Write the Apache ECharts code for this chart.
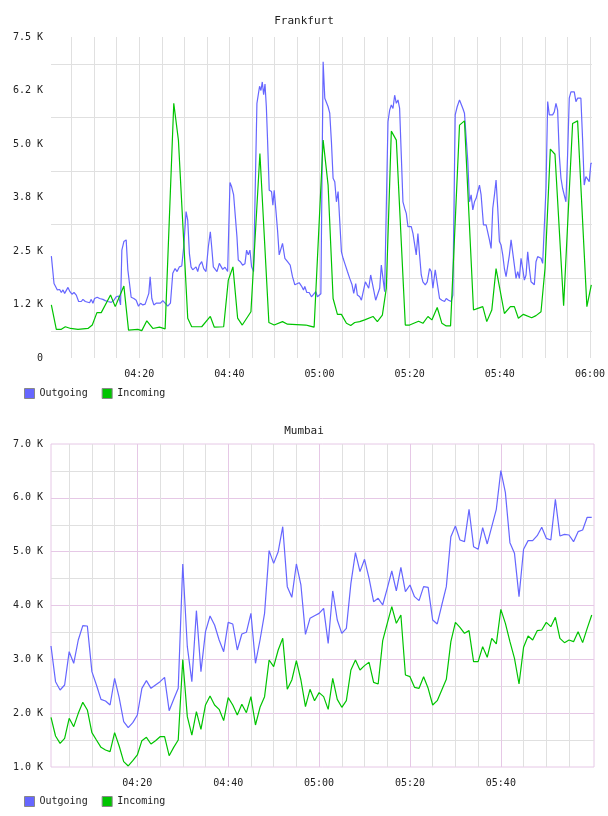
<!DOCTYPE html>
<html><head><meta charset="utf-8">
<script src="https://cdn.jsdelivr.net/npm/echarts@6/dist/echarts.min.js"></script>
<style>html,body{margin:0;padding:0;background:#fff}#c{width:608px;height:816px}</style>
</head><body><div id="c"></div>
<script>
// times are minutes after 04:00
var seriesNames = ['Outgoing', 'Incoming'];

var fraOutTimes = [0.5,1.09,1.38,1.83,2.34,2.71,3.08,3.45,3.82,4.19,4.63,5.07,5.52,6.03,6.55,7.14,7.51,8.03,8.47,8.98,9.35,9.72,10.09,10.68,11.2,11.57,11.94,12.45,13.04,13.78,14.37,14.89,15.41,15.85,16.14,16.59,17.1,17.47,17.84,18.21,18.8,19.32,19.83,20.28,20.79,21.31,21.75,22.12,22.42,22.79,23.23,23.75,24.11,24.7,25.22,25.74,26.33,26.92,27.44,27.95,28.4,28.91,29.43,29.87,30.39,30.76,31.13,31.49,31.86,32.23,32.6,32.97,33.34,33.86,34.3,34.81,35.33,35.77,36.07,36.44,36.88,37.25,37.77,38.14,38.51,39.02,39.61,40.13,40.5,40.94,41.24,41.68,41.97,42.42,42.93,43.45,43.82,44.19,44.56,44.93,45.37,46.11,46.4,46.7,47.0,47.3,47.6,47.9,48.2,48.47,48.84,49.35,49.65,49.94,50.31,50.68,51.05,51.42,51.79,52.31,52.9,53.49,54.0,54.52,54.96,55.48,56.0,56.44,56.73,57.18,57.69,58.21,58.65,59.17,59.54,59.91,60.3,60.8,61.17,61.54,61.9,62.27,62.64,63.01,63.38,63.75,64.12,64.49,64.86,65.23,65.6,66.19,66.7,67.22,67.59,68.03,68.4,68.92,69.29,69.66,70.17,70.54,70.91,71.35,71.72,72.09,72.46,72.83,73.35,73.71,74.08,74.45,74.75,75.19,75.56,75.93,76.3,76.67,77.04,77.41,77.77,78.14,78.51,78.88,79.25,79.62,79.99,80.36,80.73,81.1,81.46,81.83,82.2,82.57,82.94,83.46,83.9,84.41,84.79,85.15,85.67,86.11,86.63,87.15,87.74,88.11,88.62,89.21,89.58,90.1,90.54,91.06,91.43,91.8,92.16,92.53,92.9,93.27,93.64,94.01,94.38,94.75,95.12,95.49,95.85,96.37,96.96,97.33,97.7,98.07,98.44,98.81,99.17,99.54,99.91,100.28,100.65,101.02,101.39,101.76,102.13,102.5,102.87,103.23,103.6,103.97,104.34,104.71,105.08,105.45,105.82,106.19,106.56,106.93,107.3,107.66,108.03,108.4,108.77,109.14,109.51,109.88,110.25,110.62,110.98,111.35,111.72,112.09,112.46,112.83,113.2,113.57,113.94,114.31,114.67,115.04,115.41,115.78,116.15,116.52,116.89,117.26,117.63,117.99,118.36,118.73,119.1,119.47,119.84,120.21,120.44];
var fraOutValues = [2380,1740,1780,1590,1600,1530,1590,1510,1550,1650,1550,1490,1530,1470,1320,1320,1370,1320,1340,1290,1370,1280,1390,1420,1390,1430,1370,1340,1320,1300,1350,1430,1450,1240,2520,2720,2760,2060,1740,1420,1390,1350,1210,1280,1240,1260,1240,1510,1900,1390,1240,1280,1320,1280,1340,1280,1210,1280,1980,2090,2020,2130,2150,2600,3420,3220,2440,2130,2060,2020,2130,2020,2170,2250,2090,2020,2600,2950,2600,2130,2090,2020,2210,2200,2070,2120,2020,4100,4000,3810,3770,2830,2290,2250,2170,2200,2520,2410,2520,2130,2020,5950,5990,6350,6250,6450,6150,6400,5870,5090,3920,3890,3570,3920,3460,2990,2410,2440,2680,2330,2250,2170,1900,1710,1740,1760,1680,1590,1670,1530,1530,1430,1430,1550,1430,1430,1500,6920,6070,6070,5870,5720,5050,4200,4120,3650,3890,3190,2480,2330,2210,2020,1860,1710,1510,1740,1470,1430,1350,1390,1780,1820,1630,1940,1980,1550,1350,1330,1630,2170,1860,1550,1510,5520,5790,5910,5830,6140,5950,6030,5830,4740,3650,3500,3380,3070,3110,3070,2910,2870,2410,2910,2410,1940,1780,1710,1780,2090,2020,1630,2060,2090,1390,1350,1320,1390,1350,1320,1470,5680,5870,6030,5990,5830,5720,5680,4590,3650,3810,3460,3650,3730,3890,4040,3810,3110,3110,3070,2760,2560,3500,3810,4160,3500,2720,2640,2410,2090,1900,1940,2410,2760,2760,2170,1860,2020,1860,2330,2090,1820,1940,2480,2090,1780,1740,1710,2250,2370,2330,2330,2210,2210,3960,5990,5680,5720,5680,5750,5950,5790,4740,4200,3960,3960,3650,4740,6070,6220,6260,6220,5990,6070,6030,6070,5130,4040,4240,4280,4120,4550,4550];

var fraInTimes = [0.5,1.6,2.71,3.6,4.78,6.4,8.62,9.58,10.61,11.57,13.63,14.67,16.59,17.62,19.69,20.57,21.68,23.01,24.48,25.74,27.66,28.69,30.76,31.64,33.86,35.77,36.66,38.73,39.76,40.79,41.83,42.86,44.78,46.77,48.76,49.94,51.79,52.9,56.96,57.69,58.8,60.8,61.9,63.01,63.97,64.86,65.97,66.92,67.81,68.92,70.02,71.87,72.83,73.94,74.82,75.93,77.04,79.03,79.99,81.98,82.94,84.05,84.93,86.11,87.15,88.11,89.07,91.06,92.16,94.16,95.12,96.22,97.11,98.22,99.17,101.02,102.35,103.23,104.12,105.23,107.07,108.03,109.14,110.03,111.21,112.24,114.16,116.15,117.26,119.32,120.3];
var fraInValues = [1240,670,670,730,690,670,690,770,1060,1060,1470,1200,1680,650,670,640,870,690,720,680,5950,5090,930,730,730,970,720,730,1820,2130,930,770,1080,4780,830,770,850,790,770,750,720,5090,4040,1390,1020,1020,810,760,830,850,890,970,850,1000,1630,5300,5090,770,770,860,810,970,890,1180,810,750,750,5440,5540,1120,1160,1200,850,1120,2090,1040,1200,1200,930,1020,940,990,1080,2090,4880,4760,1220,5480,5540,1200,1710];

var mumTimes = [];
for (var k = 1; k <= 120; k++) mumTimes.push(k);
var mumOutValues = [3248,2585,2430,2523,3142,2926,3359,3625,3619,2771,2523,2257,2226,2152,2647,2288,1842,1731,1824,1966,2461,2604,2461,2523,2585,2666,2046,2257,2461,4771,3235,2585,3904,2771,3514,3805,3638,3359,3142,3687,3656,3173,3471,3502,3854,2926,3359,3854,5019,4783,5000,5464,4350,4152,4771,4381,3464,3762,3811,3854,3947,3297,4270,3731,3483,3576,4412,4982,4629,4858,4505,4071,4133,4009,4319,4641,4270,4709,4257,4381,4164,4090,4350,4338,3731,3657,4009,4350,5279,5477,5217,5186,5787,5093,5044,5446,5143,5465,5787,6505,6096,5167,4969,4164,5044,5205,5205,5297,5452,5248,5217,5972,5291,5322,5310,5186,5372,5403,5638,5638];
var mumInValues = [1923,1576,1440,1533,1904,1749,1997,2201,2059,1638,1501,1365,1316,1285,1638,1390,1099,1019,1118,1223,1489,1551,1427,1489,1563,1563,1210,1365,1501,2998,1935,1594,2028,1700,2152,2319,2152,2071,1861,2288,2152,1966,2164,2009,2306,1780,2108,2306,2988,2864,3173,3390,2443,2616,2975,2616,2121,2443,2232,2381,2307,2071,2647,2257,2109,2232,2802,2988,2802,2883,2944,2573,2542,3347,3669,3979,3669,3824,2709,2678,2480,2462,2678,2462,2152,2232,2430,2629,3328,3687,3595,3483,3533,2957,2957,3236,3037,3390,3285,3929,3669,3328,3019,2542,3223,3434,3359,3533,3545,3687,3607,3780,3390,3310,3359,3328,3514,3310,3576,3824];

// tick labels
var xLabelValues = [20, 40, 60, 80, 100, 120];
var xLabelTexts = ['04:20', '04:40', '05:00', '05:20', '05:40', '06:00'];
var xLabelValuesMum = [20, 40, 60, 80, 100];
var xGridValues = [5,10,15,20,25,30,35,40,45,50,55,60,65,70,75,80,85,90,95,100,105,110,115,120];
var xGridValuesMum = [5,10,15,20,25,30,35,40,45,50,55,60,65,70,75,80,85,90,95,100,105,110,115];
var fraYLabelValues = [0, 1250, 2500, 3750, 5000, 6250, 7500];
var fraYLabelTexts = ['0', '1.2 K', '2.5 K', '3.8 K', '5.0 K', '6.2 K', '7.5 K'];
var fraYGridValues = [625, 1875, 3125, 4375, 5625, 6875];
var mumYLabelValues = [1000, 2000, 3000, 4000, 5000, 6000, 7000];
var mumYLabelTexts = ['1.0 K', '2.0 K', '3.0 K', '4.0 K', '5.0 K', '6.0 K', '7.0 K'];
var mumYGridValues = [1500,2000,2500,3000,3500,4000,4500,5000,5500,6000,6500];

function pairs(t, v) { return t.map(function (x, i) { return [x, v[i]]; }); }
function lookup(vals, texts) { return function (v) { var i = vals.indexOf(v); return i < 0 ? '' : texts[i]; }; }

var FONT = 'DejaVu Sans Mono';
var TXT = '#222';
var GRAY = '#e0e0e0';
var PINK = '#e6c8e6';
var BLUE = '#6666ff';
var GREEN = '#00c400';

var lbl = { fontFamily: FONT, fontSize: 10, color: TXT };
var legendText = { fontFamily: FONT, fontSize: 10, color: TXT };

var chart = echarts.init(document.getElementById('c'), null, { renderer: 'canvas' });
chart.setOption({
  animation: false,
  backgroundColor: '#fff',
  color: [BLUE, GREEN],
  title: [
    { text: 'Frankfurt', left: 'center', top: 14, padding: [2, 0, 0, 0], textStyle: { fontFamily: FONT, fontSize: 11, fontWeight: 'normal', color: TXT } },
    { text: 'Mumbai', left: 'center', top: 424, padding: [2, 0, 0, 0], textStyle: { fontFamily: FONT, fontSize: 11, fontWeight: 'normal', color: TXT } }
  ],
  legend: [
    { data: seriesNames, left: 24, top: 388, padding: 0, icon: 'rect', itemWidth: 10, itemHeight: 10, itemGap: 14,
      itemStyle: { borderColor: '#888', borderWidth: 1 }, textStyle: legendText },
    { data: seriesNames, left: 24, top: 796, padding: 0, icon: 'rect', itemWidth: 10, itemHeight: 10, itemGap: 14,
      itemStyle: { borderColor: '#888', borderWidth: 1 }, textStyle: legendText }
  ],
  grid: [
    { left: 51, top: 37, right: 15, height: 321, containLabel: false },
    { left: 51, top: 444, right: 14, height: 323, containLabel: false, show: true, borderColor: PINK, borderWidth: 1 }
  ],
  xAxis: [
    { gridIndex: 0, type: 'value', min: 0.42, max: 120.44,
      axisLine: { show: false }, axisTick: { show: false, customValues: xGridValues },
      axisLabel: Object.assign({ customValues: xLabelValues, margin: 11, formatter: lookup(xLabelValues, xLabelTexts) }, lbl),
      splitLine: { show: true, lineStyle: { color: GRAY, width: 1 } } },
    { gridIndex: 1, type: 'value', min: 1, max: 120.5,
      axisLine: { show: false }, axisTick: { show: false, customValues: xGridValuesMum },
      axisLabel: Object.assign({ customValues: xLabelValuesMum, margin: 11, formatter: lookup(xLabelValues, xLabelTexts) }, lbl),
      splitLine: { show: true, lineStyle: { color: [GRAY, GRAY, GRAY, PINK], width: 1 } } }
  ],
  yAxis: [
    { gridIndex: 0, type: 'value', min: 0, max: 7500,
      axisLine: { show: false }, axisTick: { show: false, customValues: fraYGridValues },
      axisLabel: Object.assign({ customValues: fraYLabelValues, margin: 8, formatter: lookup(fraYLabelValues, fraYLabelTexts) }, lbl),
      splitLine: { show: true, lineStyle: { color: GRAY, width: 1 } } },
    { gridIndex: 1, type: 'value', min: 1000, max: 7000,
      axisLine: { show: false }, axisTick: { show: false, customValues: mumYGridValues },
      axisLabel: Object.assign({ customValues: mumYLabelValues, margin: 8, formatter: lookup(mumYLabelValues, mumYLabelTexts) }, lbl),
      splitLine: { show: true, lineStyle: { color: [GRAY, PINK], width: 1 } } }
  ],
  series: [
    { name: 'Outgoing', type: 'line', xAxisIndex: 0, yAxisIndex: 0, showSymbol: false, data: pairs(fraOutTimes, fraOutValues), lineStyle: { width: 1.2, color: BLUE }, itemStyle: { color: BLUE } },
    { name: 'Incoming', type: 'line', xAxisIndex: 0, yAxisIndex: 0, showSymbol: false, data: pairs(fraInTimes, fraInValues), lineStyle: { width: 1.2, color: GREEN }, itemStyle: { color: GREEN } },
    { name: 'Outgoing', type: 'line', xAxisIndex: 1, yAxisIndex: 1, showSymbol: false, data: pairs(mumTimes, mumOutValues), lineStyle: { width: 1.2, color: BLUE }, itemStyle: { color: BLUE } },
    { name: 'Incoming', type: 'line', xAxisIndex: 1, yAxisIndex: 1, showSymbol: false, data: pairs(mumTimes, mumInValues), lineStyle: { width: 1.2, color: GREEN }, itemStyle: { color: GREEN } }
  ]
});
</script></body></html>
